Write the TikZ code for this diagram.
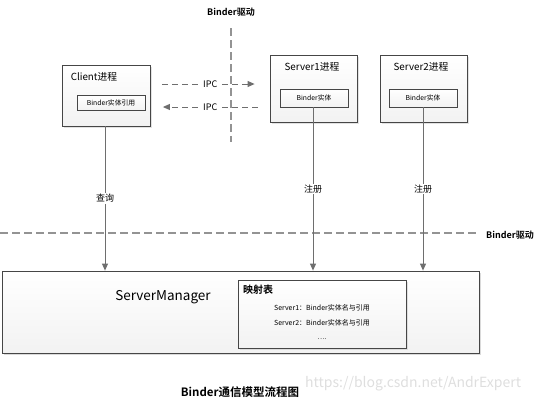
\documentclass[tikz,border=0pt]{standalone}
\usepackage{fontspec}
\setmainfont{Noto Sans CJK SC}[BoldFont={Noto Sans CJK SC Bold}]
\usetikzlibrary{positioning, calc, arrows.meta, shadows}
\definecolor{lineGray}{RGB}{110, 110, 110}
\definecolor{edgeGray}{RGB}{70, 70, 70}
\definecolor{markGray}{RGB}{222, 222, 222}

\begin{document}
\begin{tikzpicture}[
    x=1pt, y=-1pt,
    procbox/.style={rectangle, draw=edgeGray, line width=0.8pt,
                    top color=white, bottom color=gray!10,
                    drop shadow={shadow xshift=1.5pt, shadow yshift=-1.5pt, fill=gray!45},
                    minimum width=88pt, minimum height=64pt},
    entbox/.style={rectangle, draw=edgeGray, line width=0.7pt,
                   top color=white, bottom color=gray!10,
                   drop shadow={shadow xshift=1pt, shadow yshift=-1pt, fill=gray!40},
                   minimum width=68pt, minimum height=18pt, inner sep=1pt,
                   font=\fontsize{6.8}{7}\selectfont},
    titletext/.style={font=\fontsize{9.8}{10}\selectfont, inner sep=0pt},
    smalltext/.style={font=\fontsize{7}{8}\selectfont, inner sep=0pt},
    drvtext/.style={font=\fontsize{9}{10}\selectfont\bfseries, inner sep=0pt},
    arrow/.style={-{Triangle[length=7pt, width=6pt]}, draw=lineGray, line width=0.9pt},
    ipcarrow/.style={arrow, dash pattern=on 6pt off 4pt},
    divider/.style={dash pattern=on 8pt off 4pt, draw=gray!85, line width=1.4pt},
    lbl/.style={fill=white, inner sep=1pt, font=\fontsize{9}{10}\selectfont},
  ]
    \useasboundingbox (0,0) rectangle (541,407);

    % Processes
    \node[procbox, minimum height=61pt] (client) at (106.5,95.5) {};
    \node[titletext] (clientT) at (94,77) {Client进程};
    \node[entbox, minimum height=15pt] (clientRef) at (111,102.5) {Binder实体引用};

    \node[procbox, minimum width=87pt, minimum height=67pt] (server1) at (313.5,88.5) {};
    \node[titletext] (server1T) at (312,67) {Server1进程};
    \node[entbox] (server1Ent) at (314,98) {Binder实体};

    \node[procbox, minimum width=87pt, minimum height=67pt] (server2) at (423.5,88.5) {};
    \node[titletext] (server2T) at (421,67) {Server2进程};
    \node[entbox] (server2Ent) at (423,98) {Binder实体};

    % ServerManager and mapping table
    \node[procbox, minimum width=477pt, minimum height=82pt,
          drop shadow={shadow xshift=1.5pt, shadow yshift=-1.5pt, fill=gray!35}] (sm) at (240.5,312) {};
    \node[font=\fontsize{13.5}{14}\selectfont, inner sep=0pt] (smT) at (163,297) {ServerManager};
    \node[procbox, minimum width=168pt, minimum height=68pt] (maptab) at (322,314) {};
    \node[font=\fontsize{10}{11}\selectfont\bfseries, inner sep=0pt, anchor=west] (maptabT) at (243,290) {映射表};
    \node[smalltext] (row1) at (322,308) {Server1：Binder实体名与引用};
    \node[smalltext] (row2) at (322,323) {Server2：Binder实体名与引用};
    \node[smalltext] (row3) at (322,339) {….};

    % Binder driver boundaries
    \node[drvtext] (drvTop) at (231,12) {Binder驱动};
    \coordinate (vTop) at (231,28);
    \coordinate (vBot) at (231,142);
    \draw[divider] (vTop) -- (vBot);
    \node[drvtext] (drvRight) at (510,235) {Binder驱动};
    \coordinate (hLeft) at (0,233);
    \coordinate (hRight) at (476,233);
    \draw[divider] (hLeft) -- (hRight);

    % IPC
    \draw[ipcarrow, shorten <=11pt, shorten >=15pt] ([yshift=11.5pt]client.east) -- node[lbl] {IPC} ([yshift=4.5pt]server1.west);
    \draw[ipcarrow, shorten <=12pt, shorten >=12pt] ([yshift=-18.5pt]server1.west) -- node[lbl] {IPC} ([yshift=-11.5pt]client.east);

    % query / register
    \draw[arrow] (client.south -| 105,0) -- node[lbl, pos=0.5] {查询} (105,0 |- sm.north);
    \draw[arrow] (server1Ent.south -| 313,0) -- node[lbl, pos=0.5] {注册} (313,0 |- sm.north);
    \draw[arrow] (server2Ent.south -| 423,0) -- node[lbl, pos=0.5] {注册} (423,0 |- sm.north);

    % caption
    \node[font=\fontsize{11.5}{12}\selectfont\bfseries, inner sep=0pt] (caption) at (240,392) {Binder通信模型流程图};
    \node[font=\fontsize{14}{15}\selectfont, text=markGray, inner sep=0pt, anchor=west] (mark) at (305,384) {https://blog.csdn.net/AndrExpert};
\end{tikzpicture}
\end{document}
